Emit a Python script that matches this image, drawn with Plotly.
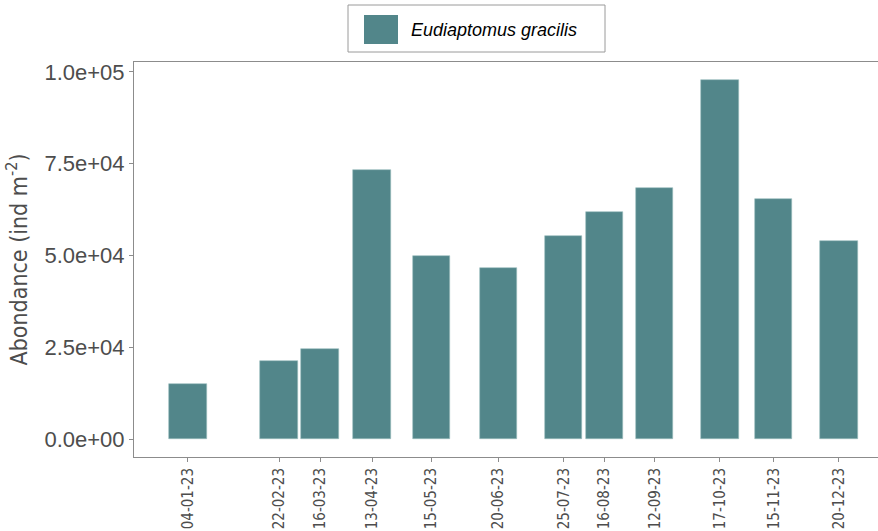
import plotly.graph_objects as go

# sampling dates and abundance (ind m-2)
dates = ["2023-01-04", "2023-02-22", "2023-03-16", "2023-04-13", "2023-05-15", "2023-06-20",
         "2023-07-25", "2023-08-16", "2023-09-12", "2023-10-17", "2023-11-15", "2023-12-20"]
date_labels = ["04-01-23", "22-02-23", "16-03-23", "13-04-23", "15-05-23", "20-06-23",
               "25-07-23", "16-08-23", "12-09-23", "17-10-23", "15-11-23", "20-12-23"]
abundance = [15000, 21200, 24500, 73300, 49900, 46600,
             55300, 61900, 68400, 97800, 65400, 54000]

y_ticks = [0, 25000, 50000, 75000, 100000]
y_tick_labels = ["0.0e+00", "2.5e+04", "5.0e+04", "7.5e+04", "1.0e+05"]

BAR_COLOR = "#52868A"
AXIS_GRAY = "#8c8c8c"
TEXT_GRAY = "#4d4d4d"
DAY_MS = 86400000
NARROW = "DejaVu Sans Condensed, Liberation Sans Narrow, Liberation Sans"

fig = go.Figure()

fig.add_trace(go.Bar(
    x=dates,
    y=abundance,
    width=[20 * DAY_MS] * len(dates),
    marker=dict(color=BAR_COLOR, line=dict(color="#9bbcbe", width=0.6)),
    name="Eudiaptomus gracilis",
    showlegend=False
))

# legend drawn by hand (large swatch, boxed)
fig.add_shape(type="rect", xref="paper", yref="paper",
              x0=(348 - 134) / 744, x1=(605 - 134) / 744,
              y0=1 + (62 - 52) / 395, y1=1 + (62 - 5) / 395,
              line=dict(color="#9a9a9a", width=1), fillcolor="white")
fig.add_shape(type="rect", xref="paper", yref="paper",
              x0=(364 - 134) / 744, x1=(398 - 134) / 744,
              y0=1 + (62 - 44) / 395, y1=1 + (62 - 15) / 395,
              line=dict(width=0), fillcolor=BAR_COLOR)
fig.add_annotation(xref="paper", yref="paper",
                   x=(409 - 134) / 744, y=1 + (62 - 30) / 395,
                   xanchor="left", yanchor="middle", showarrow=False,
                   text="<i>Eudiaptomus gracilis</i>",
                   font=dict(family="Liberation Sans, Arial", size=18, color="black"))

fig.update_layout(
    width=878, height=531,
    margin=dict(l=134, r=0, t=62, b=74),
    plot_bgcolor="white",
    paper_bgcolor="white",
    xaxis=dict(
        type="date",
        range=["2022-12-06", "2024-01-10"],
        tickmode="array",
        tickvals=dates,
        ticktext=date_labels,
        tickangle=-90,
        ticks="outside", ticklen=4, tickcolor=AXIS_GRAY,
        tickfont=dict(family=NARROW, size=15, color=TEXT_GRAY),
        showgrid=False, zeroline=False, automargin=False,
        showline=True, linecolor=AXIS_GRAY, linewidth=1, mirror=True
    ),
    yaxis=dict(
        range=[-4900, 102700],
        tickmode="array",
        tickvals=y_ticks,
        ticktext=y_tick_labels,
        ticks="outside", ticklen=4, tickcolor=AXIS_GRAY,
        tickfont=dict(family="Liberation Sans, Arial", size=22, color=TEXT_GRAY),
        showgrid=False, zeroline=False, automargin=False,
        showline=True, linecolor=AXIS_GRAY, linewidth=1,
        title=dict(text="Abondance (ind m<sup>-2</sup>)", standoff=10,
                   font=dict(family=NARROW, size=23, color=TEXT_GRAY))
    ),
    bargap=0
)

# no page margin, so the figure sits at the window's top-left corner
fig.write_html("out.html", config={"displayModeBar": False},
               post_script="document.body.style.margin='0';")
